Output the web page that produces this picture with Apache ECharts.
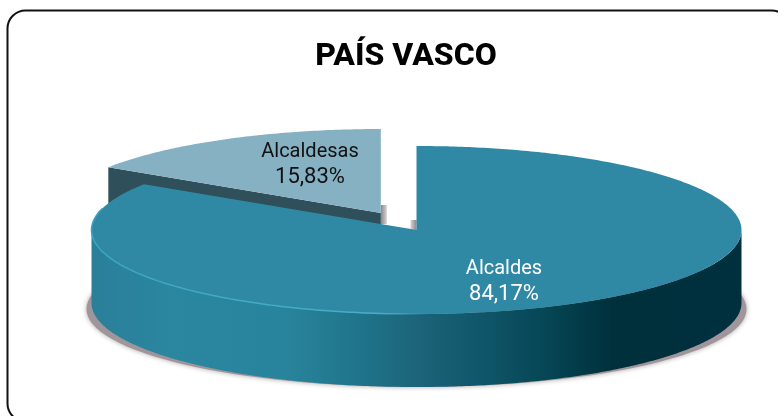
<!DOCTYPE html>
<html><head><meta charset="utf-8">
<style>html,body{margin:0;padding:0;background:#fff;overflow:hidden}#c{width:778px;height:416px}</style>
<script src="https://cdn.jsdelivr.net/npm/echarts@6/dist/echarts.min.js"></script>
</head><body><div id="c"></div>
<script>
const titleText = 'PAÍS VASCO';
const categories = ['Alcaldesas', 'Alcaldes'];
const values = [15.83, 84.17];

const FONT = 'Roboto, sans-serif';
const CX = 416.5, CY = 230, RX = 325, RY = 84, DEPTH = 73, EXPLODE = 0.23;
const LABEL_POS = { Alcaldesas: [310, 152, '#111'], Alcaldes: [504, 269, '#fff'] };
const G = echarts.graphic;
const total = values.reduce((a, b) => a + b, 0);
// Big slice starts at 12 o'clock and runs clockwise; the small one closes the circle.
const startPct = { Alcaldes: 0, Alcaldesas: values[1] };

function pt(cx, cy, deg) {
  const r = deg * Math.PI / 180;
  return [cx + RX * Math.sin(r), cy - RY * Math.cos(r)];
}
function arc(cx, cy, a0, a1) {
  const out = [], n = Math.max(2, Math.ceil(Math.abs(a1 - a0) * 1.5));
  for (let i = 0; i <= n; i++) out.push(pt(cx, cy, a0 + (a1 - a0) * i / n));
  return out;
}
const grad = stops => new G.LinearGradient(0, 0, 1, 0, stops.map(s => ({ offset: s[0], color: s[1] })));

function renderItem(params, api) {
  const name = categories[params.dataIndex];
  const v = api.value(0);
  const a0 = startPct[name] / total * 360, a1 = a0 + v / total * 360;
  const children = [];
  if (name === 'Alcaldesas') {
    const mid = (a0 + a1) / 2 * Math.PI / 180;
    const cx = CX + EXPLODE * RX * Math.sin(mid), cy = CY - EXPLODE * RY * Math.cos(mid);
    const L = pt(cx, cy, a0);
    children.push({ type: 'rect', shape: { x: cx, y: cy - 8, width: 6, height: 19 },
      style: { fill: grad([[0, '#8d8488'], [1, '#d8d4d4']]) } });
    children.push({ type: 'polygon', shape: { points: [L, [cx, cy], [cx, cy + DEPTH], [L[0], L[1] + DEPTH]] },
      style: { fill: '#2f4f5a' } });
    children.push({ type: 'polygon', shape: { points: [[cx, cy]].concat(arc(cx, cy, a0, a1)) },
      style: { fill: '#85b1c3' } });
  } else {
    children.push({ type: 'ellipse', shape: { cx: CX, cy: CY + DEPTH + 6, rx: RX + 5, ry: RY - 6 },
      style: { fill: '#a0959a', shadowBlur: 5, shadowColor: 'rgba(110,100,100,0.6)' } });
    children.push({ type: 'rect', shape: { x: CX - 6, y: CY - 10, width: 6, height: 10 },
      style: { fill: grad([[0, '#d8d4d4'], [1, '#8d8488']]) } });
    const top = arc(CX, CY, 90, 270);
    const bottom = arc(CX, CY + DEPTH, 270, 90);
    children.push({ type: 'polygon', shape: { points: top.concat(bottom) },
      style: { fill: grad([
        [0, '#2a7f99'], [0.12, '#2b86a0'], [0.3, '#28849c'], [0.42, '#1f7389'], [0.5, '#1c6479'],
        [0.6, '#10566a'], [0.7, '#064655'], [0.8, '#00303c'], [1, '#00303e']]) } });
    children.push({ type: 'polygon', shape: { points: [[CX, CY]].concat(arc(CX, CY, a0, a1)) },
      style: { fill: '#2f89a4' } });
    children.push({ type: 'polyline', shape: { points: arc(CX, CY, 178, 285) },
      style: { fill: null, lineWidth: 1.5, stroke: grad([[0, '#3aa5c2'], [0.85, '#48aec9'], [1, 'rgba(79,178,205,0)']]) } });
  }
  const lp = LABEL_POS[name];
  children.push({ type: 'text', z2: 10, style: { x: lp[0], y: lp[1], text: name, fill: lp[2],
    font: '20px ' + FONT, align: 'center', verticalAlign: 'middle' } });
  children.push({ type: 'text', z2: 10, style: { x: lp[0], y: lp[1] + 25, text: v.toFixed(2).replace('.', ',') + '%', fill: lp[2],
    font: '22px ' + FONT, align: 'center', verticalAlign: 'middle' } });
  return { type: 'group', children };
}

const chart = echarts.init(document.getElementById('c'), null, { renderer: 'canvas' });
chart.setOption({
  animation: false,
  backgroundColor: '#fff',
  title: { text: titleText, left: 401, top: 52, textAlign: 'center', textVerticalAlign: 'middle',
    textStyle: { fontFamily: FONT, fontSize: 32, fontWeight: 800, color: '#000' } },
  graphic: [{ type: 'rect', silent: true, shape: { x: 7.5, y: 10.5, width: 782, height: 411, r: 18 },
    style: { fill: 'none', stroke: '#111', lineWidth: 2 } }],
  series: [{ type: 'custom', coordinateSystem: 'none', renderItem,
    data: categories.map((c, i) => ({ name: c, value: [values[i]] })) }]
});
</script></body></html>
